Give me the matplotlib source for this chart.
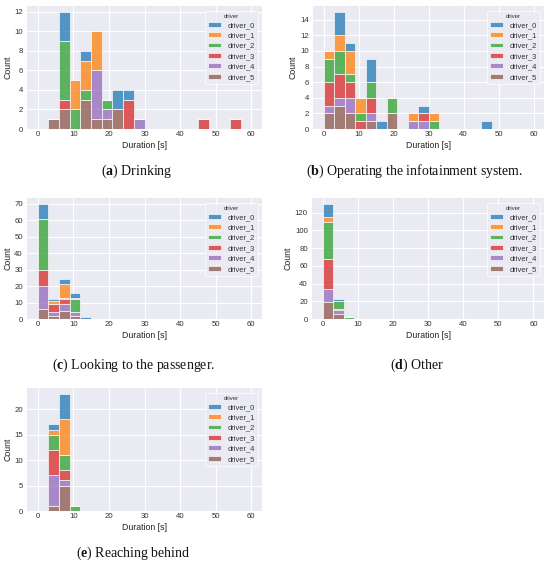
import matplotlib
matplotlib.use("Agg")
import matplotlib.pyplot as plt
from matplotlib.patches import Patch
from matplotlib.ticker import MultipleLocator
import numpy as np
import seaborn as sns

# ---------------- data ----------------
drivers = ["driver_0", "driver_1", "driver_2", "driver_3", "driver_4", "driver_5"]
bin_width = 3

# (a) Drinking
bins_a = [3, 6, 9, 12, 15, 18, 21, 24, 27, 30, 33, 36, 39, 42, 45, 48, 51, 54]
a_d0 = [0, 3, 0, 1, 0, 0, 2, 1, 0, 0, 0, 0, 0, 0, 0, 0, 0, 0]
a_d1 = [0, 0, 3, 3, 4, 0, 0, 0, 0, 0, 0, 0, 0, 0, 0, 0, 0, 0]
a_d2 = [0, 6, 2, 1, 0, 1, 0, 0, 0, 0, 0, 0, 0, 0, 0, 0, 0, 0]
a_d3 = [0, 1, 0, 0, 0, 0, 0, 3, 0, 0, 0, 0, 0, 0, 1, 0, 0, 1]
a_d4 = [0, 0, 0, 0, 5, 1, 0, 0, 1, 0, 0, 0, 0, 0, 0, 0, 0, 0]
a_d5 = [1, 2, 0, 3, 1, 1, 2, 0, 0, 0, 0, 0, 0, 0, 0, 0, 0, 0]

# (b) Operating the infotainment system
bins_b = [0, 3, 6, 9, 12, 15, 18, 21, 24, 27, 30, 33, 36, 39, 42, 45]
b_d0 = [0, 3, 1, 0, 3, 1, 0, 0, 0, 1, 0, 0, 0, 0, 0, 1]
b_d1 = [1, 2, 3, 2, 0, 0, 0, 0, 1, 0, 1, 0, 0, 0, 0, 0]
b_d2 = [3, 3, 1, 1, 2, 0, 2, 0, 0, 0, 1, 0, 0, 0, 0, 0]
b_d3 = [3, 3, 2, 1, 2, 0, 0, 0, 0, 1, 0, 0, 0, 0, 0, 0]
b_d4 = [1, 1, 2, 0, 1, 0, 0, 0, 1, 1, 0, 0, 0, 0, 0, 0]
b_d5 = [2, 3, 2, 0, 1, 0, 2, 0, 0, 0, 0, 0, 0, 0, 0, 0]

# (c) Looking to the passenger
bins_c = [0, 3, 6, 9, 12]
c_d0 = [9, 1, 3, 3, 1]
c_d1 = [0, 2, 8, 1, 0]
c_d2 = [31, 0, 1, 8, 0]
c_d3 = [10, 5, 3, 0, 0]
c_d4 = [14, 2, 4, 2, 0]
c_d5 = [6, 2, 5, 2, 0]

# (d) Other
bins_d = [0, 3, 6]
d_d0 = [15, 3, 0]
d_d1 = [6, 0, 0]
d_d2 = [41, 9, 2]
d_d3 = [34, 1, 0]
d_d4 = [15, 4, 0]
d_d5 = [19, 6, 0]

# (e) Reaching behind
bins_e = [3, 6, 9]
e_d0 = [1, 5, 0]
e_d1 = [1, 7, 0]
e_d2 = [3, 3, 1]
e_d3 = [5, 2, 0]
e_d4 = [6, 1, 0]
e_d5 = [1, 5, 0]

x_ticks = [0, 10, 20, 30, 40, 50, 60]
y_steps = [2, 2, 10, 20, 5]

captions = [
    (r"($\mathbf{a}$) Drinking"),
    (r"($\mathbf{b}$) Operating the infotainment system."),
    (r"($\mathbf{c}$) Looking to the passenger."),
    (r"($\mathbf{d}$) Other"),
    (r"($\mathbf{e}$) Reaching behind"),
]

# ---------------- style ----------------
sns.set_theme(style="darkgrid")
plt.rcParams["font.family"] = ["Liberation Sans", "DejaVu Sans"]
plt.rcParams["mathtext.fontset"] = "custom"
plt.rcParams["mathtext.rm"] = "Liberation Serif"
plt.rcParams["mathtext.bf"] = "Liberation Serif:bold"
plt.rcParams["mathtext.it"] = "Liberation Serif:italic"

palette = ["#1f77b4", "#ff7f0e", "#2ca02c", "#d62728", "#9467bd", "#8c564b"]

W, H = 550, 564
fig = plt.figure(figsize=(W / 100, H / 100), dpi=100)
fig.patch.set_facecolor("white")


def axes_px(left, right, top, bottom):
    return fig.add_axes([left / W, 1 - bottom / H, (right - left) / W, (bottom - top) / H])


panels = [
    (bins_a, [a_d0, a_d1, a_d2, a_d3, a_d4, a_d5], (27, 262, 6, 129)),
    (bins_b, [b_d0, b_d1, b_d2, b_d3, b_d4, b_d5], (313, 544, 6, 129)),
    (bins_c, [c_d0, c_d1, c_d2, c_d3, c_d4, c_d5], (27, 262, 198, 319)),
    (bins_d, [d_d0, d_d1, d_d2, d_d3, d_d4, d_d5], (312, 544, 198, 319)),
    (bins_e, [e_d0, e_d1, e_d2, e_d3, e_d4, e_d5], (27, 262, 388, 511)),
]

for (bins, series, box), ystep in zip(panels, y_steps):
    ax = axes_px(*box)
    ax.set_facecolor("#EAEAF2")
    bottom = np.zeros(len(bins))
    # seaborn stacks the last hue level at the bottom
    for i in reversed(range(len(drivers))):
        vals = np.array(series[i], dtype=float)
        ax.bar(bins, vals, width=bin_width, bottom=bottom, align="edge",
               color=palette[i], alpha=0.75, edgecolor="white", linewidth=0.6)
        bottom += vals
    top = bottom.max()
    ax.set_xlim(-3, 63)
    ax.set_ylim(0, top * 1.05)
    ax.set_xticks(x_ticks)
    ax.yaxis.set_major_locator(MultipleLocator(ystep))
    ax.grid(True, color="white", linewidth=0.8)
    ax.set_axisbelow(True)
    for s in ax.spines.values():
        s.set_visible(False)
    ax.tick_params(axis="x", labelsize=5.6, pad=1.6, length=0, colors="#333333")
    ax.tick_params(axis="y", labelsize=5.6, pad=3.0, length=0, colors="#333333")
    ax.set_xlabel("Duration [s]", fontsize=6.3, labelpad=1.8, color="#222222")
    ax.set_ylabel("Count", fontsize=6.3, labelpad=1.5, color="#222222")
    handles = [Patch(facecolor=palette[i], alpha=0.75, edgecolor="white", linewidth=0.6)
               for i in range(len(drivers))]
    leg = ax.legend(handles, drivers, title="driver", loc="upper right",
                    fontsize=5.4, title_fontsize=4.3, frameon=True,
                    handlelength=1.7, handleheight=0.6, labelspacing=0.45,
                    borderpad=0.4, handletextpad=0.8, borderaxespad=0.6)
    leg.get_frame().set_facecolor("#EAEAF2")
    leg.get_frame().set_edgecolor("white")
    leg.get_frame().set_linewidth(0.6)
    for t in leg.get_texts():
        t.set_color("#333333")
    leg.get_title().set_color("#333333")

cap_pos = [(137, 171), (415, 171), (134, 365), (417, 365), (133, 553)]
for text, (cx, cy) in zip(captions, cap_pos):
    fig.text(cx / W, 1 - cy / H, text, ha="center", va="center",
             fontsize=10, family="Liberation Serif", color="#111111")

fig.savefig("out.png", dpi=100, facecolor="white")
